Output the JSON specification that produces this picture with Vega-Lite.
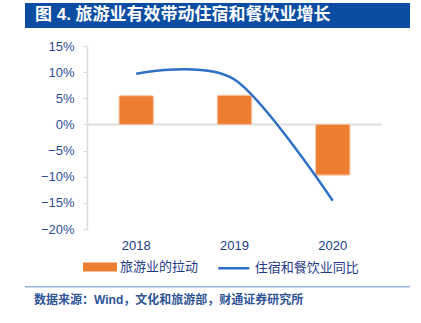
{
  "$schema": "https://vega.github.io/schema/vega-lite/v6.json",
  "background": "white",
  "padding": {"left": 25, "top": 3, "right": 10, "bottom": 4},
  "spacing": 12,
  "config": {
    "view": {"stroke": null},
    "font": "Liberation Sans, Noto Sans CJK SC, sans-serif",
    "axisY": {
      "title": null,
      "offset": -62,
      "values": [-0.2, -0.15, -0.1, -0.05, 0, 0.05, 0.1, 0.15],
      "format": ".0%",
      "labelOverlap": false,
      "domainColor": "#D9D9D9",
      "domainWidth": 1.5,
      "tickColor": "#D9D9D9",
      "tickSize": 4,
      "labelPadding": 9,
      "labelFontSize": 13,
      "labelColor": "#2E4C9E",
      "grid": false
    }
  },
  "resolve": {"legend": {"fill": "independent", "stroke": "independent"}},
  "vconcat": [
    {
      "width": 385,
      "height": 25,
      "view": {"fill": "#0A4DA2", "stroke": null},
      "title": {
        "text": "图 4. 旅游业有效带动住宿和餐饮业增长",
        "orient": "top",
        "anchor": "start",
        "frame": "group",
        "offset": -21,
        "dx": 10,
        "color": "white",
        "fontSize": 17,
        "fontWeight": "bold",
        "font": "Liberation Sans, Noto Sans CJK SC, sans-serif"
      },
      "data": {"values": [{}]},
      "mark": {"type": "text"},
      "encoding": {"text": {"value": ""}}
    },
    {
      "spacing": 4,
      "resolve": {"legend": {"fill": "independent", "stroke": "independent"}},
      "vconcat": [
        {
          "width": 357,
          "height": 183,
          "data": {
            "values": [
              {"year": "2018", "pull": 0.055, "yoy": 0.097},
              {"year": "2019", "pull": 0.056, "yoy": 0.086},
              {"year": "2020", "pull": -0.097, "yoy": -0.146}
            ]
          },
          "resolve": {"scale": {"x": "independent"}},
          "layer": [
            {
              "data": {"values": [{"a": 0}]},
              "mark": {"type": "rule", "color": "#DDDDDD", "strokeWidth": 2},
              "encoding": {
                "x": {"datum": 0, "type": "quantitative", "scale": {"domain": [-0.2102, 1], "nice": false, "zero": false}, "axis": null},
                "x2": {"datum": 1},
                "y": {"datum": 0, "type": "quantitative", "scale": {"domain": [-0.2, 0.15], "nice": false, "zero": false}, "axis": {"values": [-0.2, -0.15, -0.1, -0.05, 0, 0.05, 0.1, 0.15], "format": ".0%", "labelOverlap": false, "offset": -62, "title": null}}
              }
            },
            {
              "layer": [
                {
                  "mark": {"type": "bar", "fill": "#ED7D31", "stroke": "#F6BE98", "strokeWidth": 1, "cornerRadius": 1.5},
                  "encoding": {
                    "x": {
                      "field": "year",
                      "type": "nominal",
                      "scale": {"paddingInner": 0.65, "paddingOuter": 0.6407, "align": 0.746},
                      "axis": {
                        "title": null,
                        "domain": false,
                        "ticks": false,
                        "labelAngle": 0,
                        "labelPadding": 10,
                        "labelFontSize": 13,
                        "labelColor": "#203C8C"
                      }
                    },
                    "y": {
                      "field": "pull",
                      "type": "quantitative",
                      "scale": {"domain": [-0.2, 0.15], "nice": false, "zero": false},
                      "axis": {"values": [-0.2, -0.15, -0.1, -0.05, 0, 0.05, 0.1, 0.15], "format": ".0%", "labelOverlap": false, "offset": -62, "title": null}
                    },
                    "fill": {
                      "datum": "旅游业的拉动",
                      "scale": {"range": ["#ED7D31"]},
                      "legend": {
                        "title": null,
                        "orient": "none",
                        "legendX": 66.5,
                        "legendY": 212.5,
                        "direction": "horizontal",
                        "padding": 0,
                        "symbolType": "M-2,-0.53L2,-0.53L2,0.53L-2,0.53Z",
                        "symbolSize": 289,
                        "symbolStrokeWidth": 0,
                        "symbolOpacity": 1,
                        "labelFontSize": 13,
                        "labelColor": "#1F3A8A",
                        "labelOffset": 11.5
                      }
                    }
                  }
                },
                {
                  "mark": {"type": "line", "interpolate": "cardinal", "tension": 0.1, "strokeWidth": 2.5},
                  "encoding": {
                    "x": {"field": "year", "type": "nominal"},
                    "y": {"field": "yoy", "type": "quantitative", "axis": {"values": [-0.2, -0.15, -0.1, -0.05, 0, 0.05, 0.1, 0.15], "format": ".0%", "labelOverlap": false, "offset": -62, "title": null}},
                    "stroke": {
                      "datum": "住宿和餐饮业同比",
                      "scale": {"range": ["#2F6FC6"]},
                      "legend": {
                        "title": null,
                        "orient": "none",
                        "legendX": 199.75,
                        "legendY": 213.25,
                        "direction": "horizontal",
                        "padding": 0,
                        "symbolType": "M-2,0L2,0",
                        "symbolSize": 240,
                        "symbolStrokeWidth": 2.5,
                        "labelFontSize": 13,
                        "labelColor": "#1F3A8A",
                        "labelOffset": 12
                      }
                    }
                  }
                }
              ]
            }
          ]
        },
        {
          "width": 385,
          "height": 1.5,
          "view": {"fill": "#95B3DE", "stroke": null},
          "title": {
            "text": "数据来源：Wind，文化和旅游部，财通证券研究所",
            "orient": "bottom",
            "anchor": "start",
            "frame": "group",
            "offset": 3,
            "dx": 9,
            "color": "#2F5597",
            "fontSize": 12,
            "fontWeight": "bold",
            "font": "Liberation Sans, Noto Sans CJK SC, sans-serif"
          },
          "data": {"values": [{}]},
          "mark": {"type": "text"},
          "encoding": {"text": {"value": ""}}
        }
      ]
    }
  ]
}
